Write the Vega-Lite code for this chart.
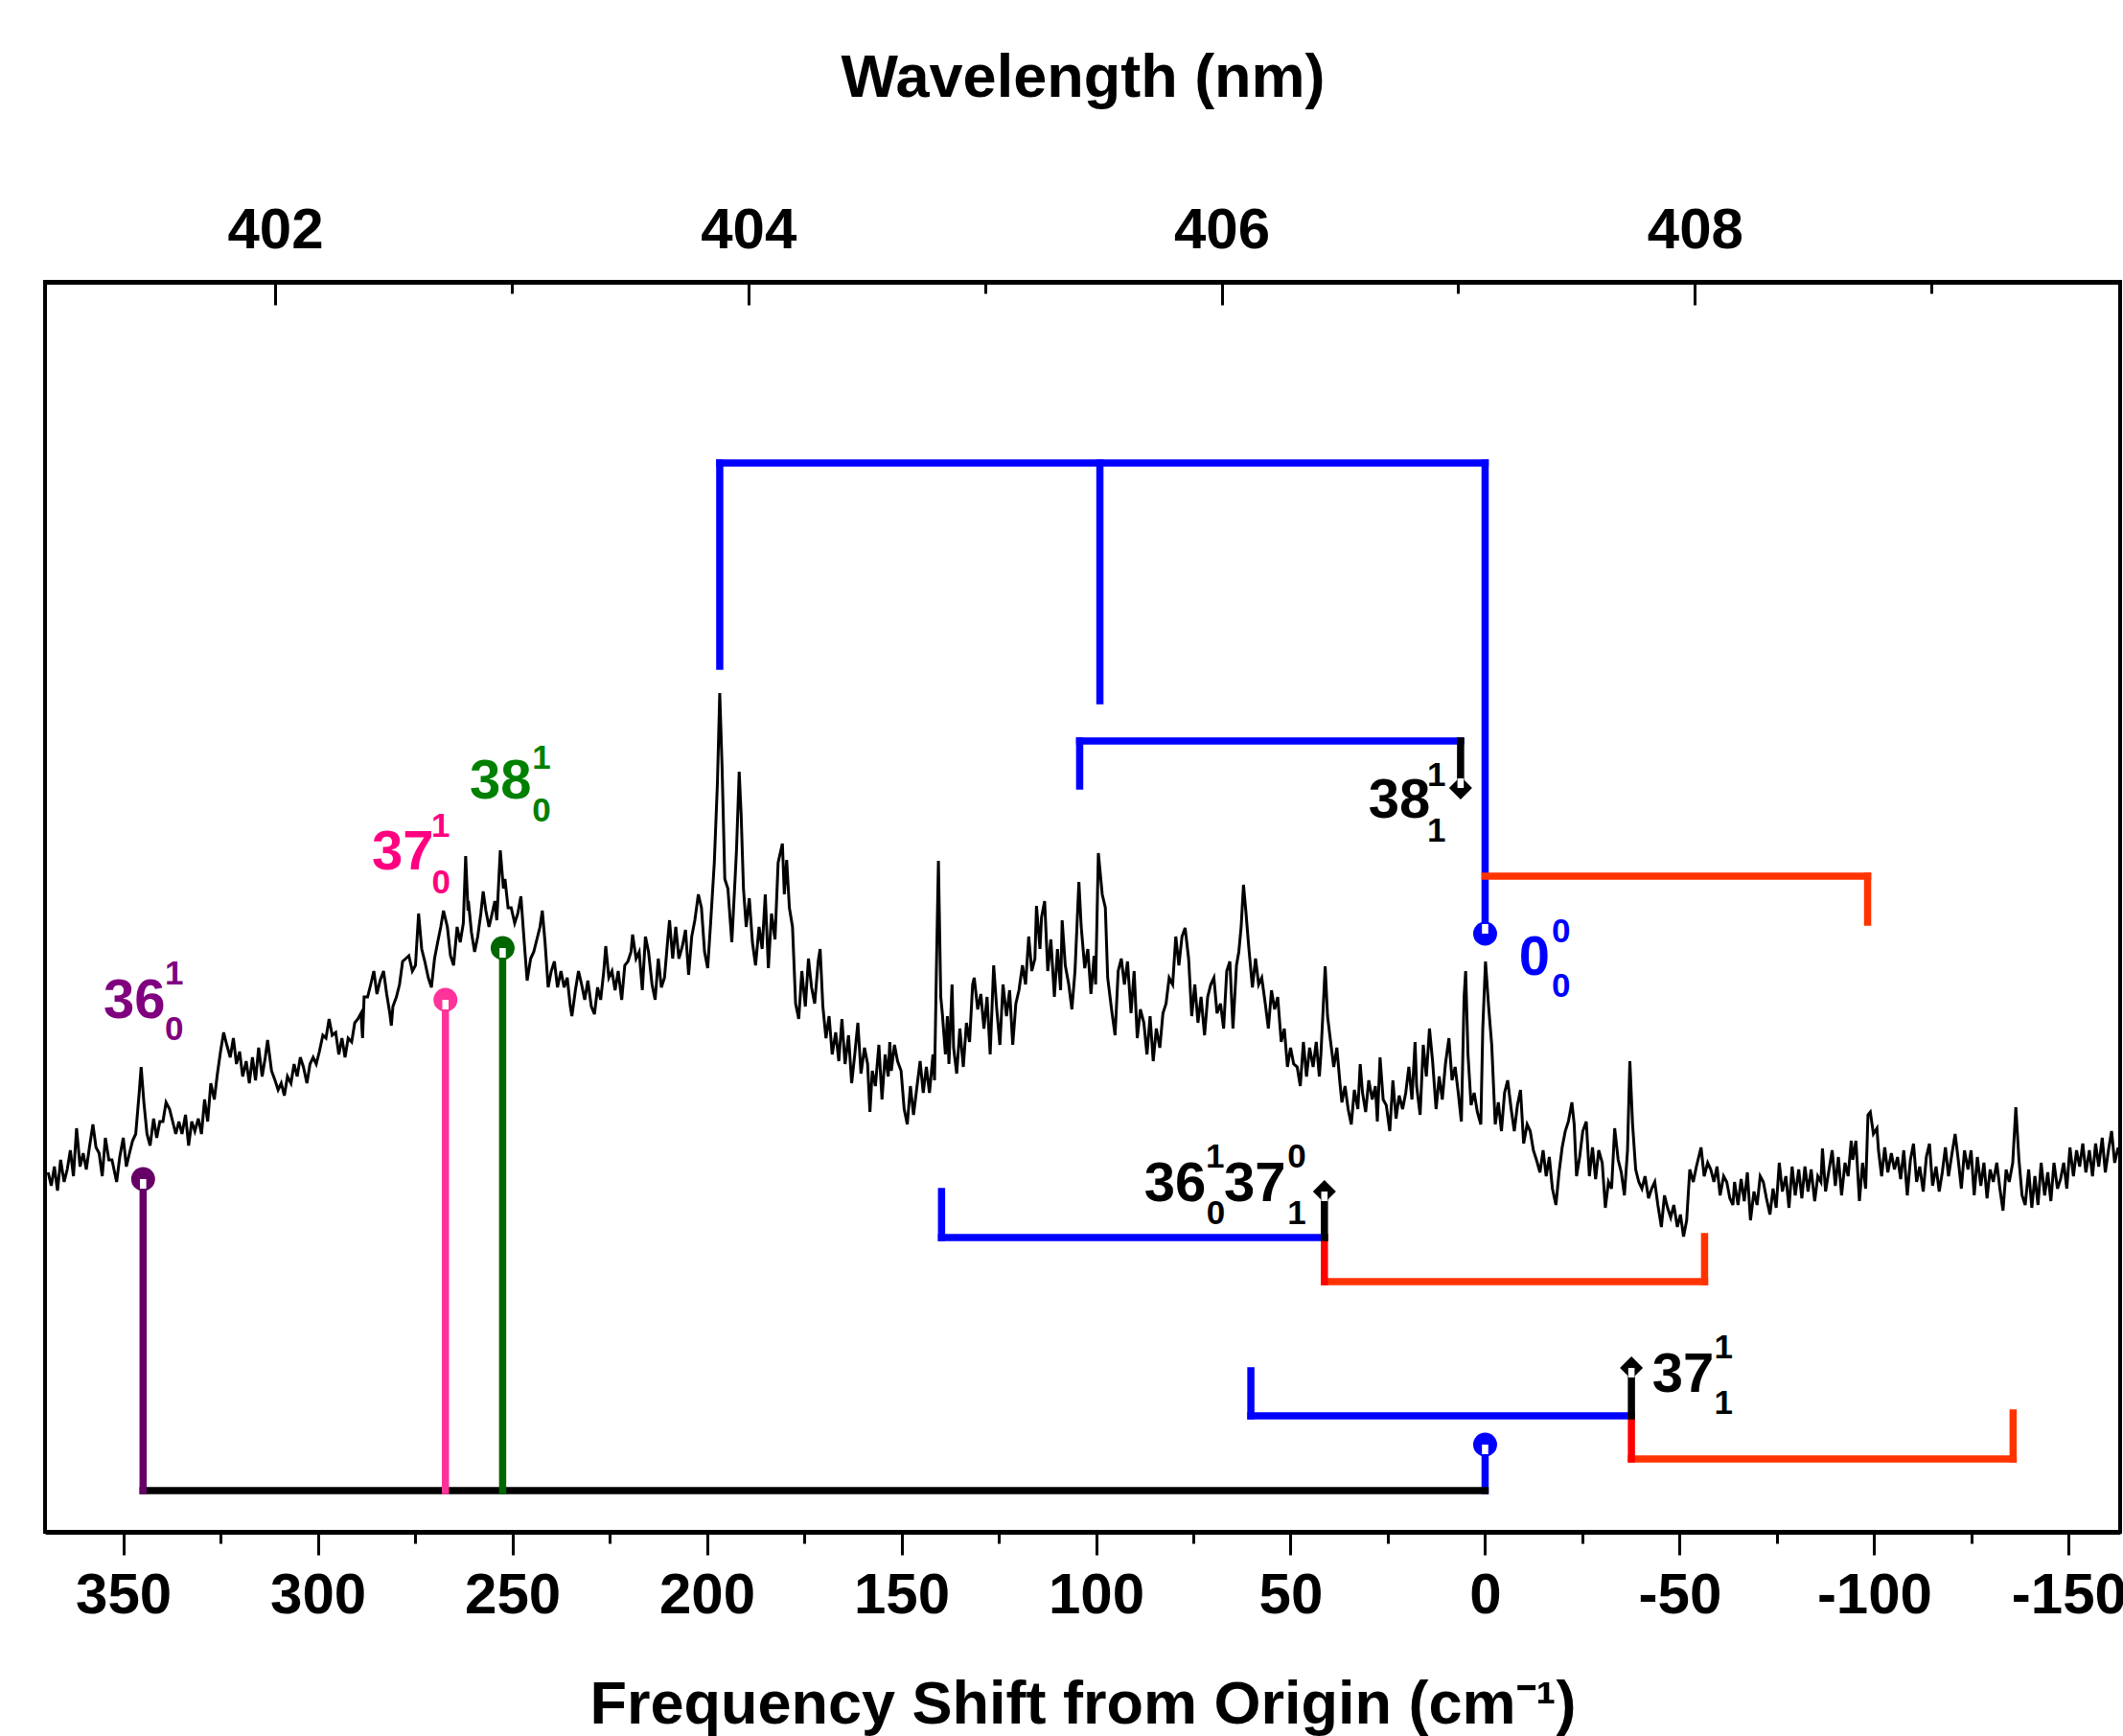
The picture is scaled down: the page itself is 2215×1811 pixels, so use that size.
{
"$schema":"https://vega.github.io/schema/vega-lite/v6.json",
"width":2165,"height":1304,
"autosize":{"type":"none"},
"padding":{"left":47,"top":294,"right":3,"bottom":213},
"background":"white",
"config":{"view":{"stroke":"black","strokeWidth":4},"font":"Liberation Sans"},
"datasets":{
"spectrum":[
{"v":369.3,"h":375},{"v":368.5,"h":361},{"v":367.7,"h":381},{"v":366.9,"h":356},{"v":366.1,"h":388},{"v":365.2,"h":365},{"v":364.4,"h":378},{"v":363.6,"h":398},{"v":362.8,"h":371},{"v":362.0,"h":421},{"v":361.1,"h":381},{"v":360.3,"h":395},{"v":359.5,"h":378},{"v":358.7,"h":401},{"v":357.8,"h":425},{"v":357.0,"h":401},{"v":356.2,"h":395},{"v":355.4,"h":371},{"v":354.6,"h":411},{"v":353.7,"h":388},{"v":352.9,"h":388},{"v":351.7,"h":365},{"v":350.9,"h":391},{"v":350.0,"h":411},{"v":349.2,"h":381},{"v":348.4,"h":395},{"v":347.6,"h":408},{"v":346.8,"h":415},{"v":345.9,"h":458},{"v":345.4,"h":485},{"v":344.7,"h":448},{"v":343.9,"h":415},{"v":343.1,"h":403},{"v":342.2,"h":431},{"v":341.4,"h":411},{"v":340.6,"h":428},{"v":339.8,"h":428},{"v":339.0,"h":448},{"v":338.1,"h":441},{"v":337.3,"h":428},{"v":336.5,"h":415},{"v":335.7,"h":428},{"v":334.9,"h":415},{"v":334.0,"h":435},{"v":333.2,"h":403},{"v":332.4,"h":428},{"v":331.6,"h":418},{"v":330.7,"h":431},{"v":329.9,"h":415},{"v":329.1,"h":451},{"v":328.3,"h":428},{"v":327.5,"h":468},{"v":326.6,"h":451},{"v":325.8,"h":478},{"v":325.0,"h":501},{"v":324.2,"h":521},{"v":323.4,"h":508},{"v":322.5,"h":495},{"v":321.7,"h":515},{"v":320.9,"h":488},{"v":320.1,"h":501},{"v":319.3,"h":475},{"v":318.4,"h":491},{"v":317.6,"h":468},{"v":316.8,"h":495},{"v":316.0,"h":471},{"v":315.2,"h":505},{"v":314.3,"h":475},{"v":313.5,"h":495},{"v":312.9,"h":513},{"v":311.9,"h":481},{"v":311.0,"h":471},{"v":310.2,"h":461},{"v":309.4,"h":468},{"v":308.6,"h":455},{"v":307.8,"h":475},{"v":306.9,"h":468},{"v":306.1,"h":488},{"v":305.3,"h":475},{"v":304.5,"h":495},{"v":303.7,"h":485},{"v":302.8,"h":468},{"v":302.0,"h":488},{"v":301.2,"h":495},{"v":300.4,"h":488},{"v":299.6,"h":501},{"v":298.7,"h":518},{"v":297.9,"h":515},{"v":297.1,"h":535},{"v":296.3,"h":518},{"v":295.4,"h":521},{"v":294.6,"h":498},{"v":293.8,"h":515},{"v":293.0,"h":495},{"v":292.2,"h":515},{"v":291.3,"h":511},{"v":290.5,"h":531},{"v":289.7,"h":535},{"v":288.9,"h":541},{"v":288.5,"h":515},{"v":288.1,"h":558},{"v":287.2,"h":558},{"v":286.4,"h":571},{"v":285.6,"h":585},{"v":284.8,"h":561},{"v":284.0,"h":575},{"v":283.1,"h":585},{"v":282.3,"h":561},{"v":281.5,"h":541},{"v":281.1,"h":528},{"v":280.7,"h":548},{"v":279.8,"h":558},{"v":279.0,"h":571},{"v":278.2,"h":595},{"v":277.4,"h":598},{"v":276.6,"h":601},{"v":275.7,"h":585},{"v":274.9,"h":591},{"v":274.1,"h":645},{"v":273.3,"h":608},{"v":272.5,"h":595},{"v":271.6,"h":578},{"v":270.8,"h":568},{"v":270.0,"h":598},{"v":269.2,"h":615},{"v":268.4,"h":631},{"v":267.7,"h":648},{"v":266.7,"h":631},{"v":265.9,"h":601},{"v":265.1,"h":591},{"v":264.2,"h":631},{"v":263.4,"h":615},{"v":262.6,"h":635},{"v":262.0,"h":705},{"v":261.4,"h":648},
{"v":261.3,"h":658},{"v":260.5,"h":625},{"v":259.7,"h":605},{"v":258.9,"h":621},{"v":258.1,"h":645},{"v":257.5,"h":668},{"v":256.8,"h":648},{"v":256.0,"h":631},{"v":255.2,"h":645},{"v":254.5,"h":658},{"v":254.0,"h":638},{"v":253.1,"h":711},{"v":252.3,"h":671},{"v":251.9,"h":681},{"v":251.1,"h":651},{"v":250.3,"h":651},{"v":249.4,"h":635},{"v":248.6,"h":645},{"v":247.8,"h":663},{"v":247.0,"h":618},{"v":246.2,"h":575},{"v":245.3,"h":598},{"v":244.5,"h":605},{"v":243.7,"h":618},{"v":242.9,"h":631},{"v":242.3,"h":648},{"v":241.6,"h":615},{"v":240.8,"h":568},{"v":240.0,"h":585},{"v":239.2,"h":595},{"v":238.4,"h":568},{"v":237.5,"h":585},{"v":236.7,"h":568},{"v":235.9,"h":578},{"v":235.1,"h":548},{"v":234.7,"h":538},{"v":233.8,"h":565},{"v":233.0,"h":585},{"v":232.2,"h":571},{"v":231.4,"h":555},{"v":230.6,"h":575},{"v":229.7,"h":548},{"v":228.9,"h":540},{"v":228.1,"h":568},{"v":227.3,"h":555},{"v":226.5,"h":585},{"v":226.0,"h":611},{"v":225.2,"h":578},{"v":224.4,"h":585},{"v":223.6,"h":565},{"v":222.8,"h":585},{"v":221.9,"h":555},{"v":221.1,"h":591},{"v":220.3,"h":595},{"v":219.5,"h":605},{"v":219.1,"h":623},{"v":218.2,"h":598},{"v":217.4,"h":605},{"v":216.6,"h":565},{"v":215.8,"h":621},{"v":215.0,"h":605},{"v":214.1,"h":571},{"v":213.3,"h":555},{"v":212.5,"h":598},{"v":211.7,"h":568},{"v":210.9,"h":578},{"v":210.0,"h":621},{"v":209.6,"h":638},{"v":208.8,"h":598},{"v":208.0,"h":631},{"v":207.2,"h":598},{"v":206.3,"h":611},{"v":205.5,"h":628},{"v":204.7,"h":581},{"v":203.9,"h":621},{"v":203.1,"h":638},{"v":202.2,"h":665},{"v":201.4,"h":651},{"v":200.6,"h":605},{"v":199.8,"h":588},{"v":199.0,"h":638},{"v":198.1,"h":698},{"v":197.3,"h":781},{"v":196.7,"h":875},{"v":196.1,"h":798},{"v":195.4,"h":681},{"v":194.6,"h":671},{"v":193.6,"h":615},{"v":192.8,"h":678},{"v":192.4,"h":711},{"v":191.7,"h":793},{"v":191.2,"h":748},{"v":190.6,"h":671},{"v":189.9,"h":631},{"v":189.1,"h":661},{"v":188.3,"h":615},{"v":187.5,"h":591},{"v":186.6,"h":631},{"v":185.8,"h":608},{"v":185.0,"h":665},{"v":184.2,"h":588},{"v":183.4,"h":645},{"v":182.5,"h":618},{"v":181.7,"h":698},{"v":180.6,"h":718},{"v":180.1,"h":665},{"v":179.5,"h":701},{"v":178.8,"h":651},{"v":178.0,"h":631},{"v":177.2,"h":551},{"v":176.4,"h":535},{"v":175.6,"h":585},{"v":174.7,"h":548},{"v":173.9,"h":598},{"v":173.1,"h":568},{"v":172.3,"h":551},{"v":171.4,"h":595},{"v":170.9,"h":608},{"v":170.2,"h":548},{"v":169.4,"h":515},{"v":168.6,"h":538},{"v":167.8,"h":498},{"v":166.9,"h":521},{"v":166.1,"h":491},{"v":165.3,"h":535},{"v":164.5,"h":488},{"v":163.6,"h":518},{"v":162.8,"h":468},{"v":162.0,"h":498},{"v":161.2,"h":531},{"v":160.4,"h":478},{"v":159.5,"h":505},{"v":158.7,"h":488},{"v":158.1,"h":438},{"v":157.5,"h":481},{"v":156.7,"h":465},{"v":155.8,"h":508},{"v":155.0,"h":451},{"v":154.2,"h":498},{"v":153.4,"h":475},{"v":153.0,"h":511},
{"v":152.6,"h":481},{"v":151.8,"h":508},{"v":151.0,"h":491},{"v":150.1,"h":481},{"v":149.3,"h":441},{"v":148.5,"h":425},{"v":147.7,"h":465},{"v":146.9,"h":435},{"v":146.0,"h":465},{"v":145.2,"h":491},{"v":144.4,"h":458},{"v":143.6,"h":485},{"v":142.8,"h":458},{"v":141.9,"h":498},{"v":141.5,"h":471},{"v":141.0,"h":591},{"v":140.5,"h":700},{"v":139.9,"h":558},{"v":139.5,"h":541},{"v":138.7,"h":498},{"v":138.2,"h":538},{"v":137.8,"h":488},{"v":137.0,"h":571},{"v":136.6,"h":505},{"v":135.8,"h":478},{"v":135.0,"h":525},{"v":134.1,"h":485},{"v":133.3,"h":531},{"v":132.5,"h":511},{"v":131.7,"h":571},{"v":131.3,"h":578},{"v":130.4,"h":545},{"v":129.6,"h":561},{"v":128.8,"h":525},{"v":128.0,"h":558},{"v":127.2,"h":498},{"v":126.3,"h":591},{"v":125.5,"h":545},{"v":124.7,"h":508},{"v":123.9,"h":571},{"v":123.0,"h":538},{"v":122.2,"h":565},{"v":121.4,"h":508},{"v":120.6,"h":551},{"v":119.8,"h":565},{"v":118.9,"h":591},{"v":118.1,"h":571},{"v":117.3,"h":621},{"v":116.5,"h":585},{"v":115.7,"h":598},{"v":115.3,"h":653},{"v":114.4,"h":608},{"v":114.0,"h":641},{"v":113.2,"h":658},{"v":112.4,"h":585},{"v":111.6,"h":618},{"v":110.7,"h":558},{"v":109.9,"h":608},{"v":109.1,"h":565},{"v":108.7,"h":638},{"v":107.9,"h":591},{"v":107.0,"h":571},{"v":106.2,"h":545},{"v":105.4,"h":585},{"v":104.4,"h":678},{"v":103.8,"h":631},{"v":102.9,"h":588},{"v":102.1,"h":608},{"v":101.3,"h":561},{"v":100.5,"h":601},{"v":100.1,"h":571},{"v":99.4,"h":708},{"v":98.4,"h":665},{"v":97.6,"h":651},{"v":97.0,"h":578},{"v":96.0,"h":545},{"v":95.1,"h":518},{"v":94.3,"h":585},{"v":93.5,"h":598},{"v":92.7,"h":571},{"v":91.9,"h":595},{"v":91.0,"h":541},{"v":90.2,"h":585},{"v":89.4,"h":515},{"v":88.6,"h":545},{"v":87.7,"h":531},{"v":86.9,"h":498},{"v":86.1,"h":538},{"v":85.3,"h":491},{"v":84.5,"h":525},{"v":83.6,"h":505},{"v":82.8,"h":541},{"v":82.0,"h":551},{"v":81.2,"h":578},{"v":80.3,"h":571},{"v":79.5,"h":621},{"v":78.7,"h":591},{"v":77.9,"h":621},{"v":77.1,"h":630},{"v":76.2,"h":598},{"v":75.4,"h":538},{"v":74.6,"h":571},{"v":73.8,"h":531},{"v":73.0,"h":558},{"v":72.1,"h":518},{"v":71.3,"h":558},{"v":70.5,"h":571},{"v":69.7,"h":578},{"v":68.9,"h":541},{"v":68.0,"h":551},{"v":67.2,"h":525},{"v":66.4,"h":585},{"v":65.6,"h":595},{"v":64.8,"h":525},{"v":63.9,"h":591},{"v":63.3,"h":605},{"v":62.7,"h":631},{"v":62.1,"h":675},{"v":61.5,"h":648},{"v":60.7,"h":608},{"v":59.8,"h":568},{"v":59.0,"h":598},{"v":58.2,"h":571},{"v":57.4,"h":578},{"v":56.5,"h":551},{"v":55.7,"h":525},{"v":54.9,"h":565},{"v":54.1,"h":545},{"v":53.3,"h":558},{"v":52.4,"h":511},{"v":51.6,"h":525},{"v":50.8,"h":485},{"v":50.0,"h":505},{"v":49.2,"h":488},{"v":48.3,"h":485},{"v":47.5,"h":465},{"v":46.7,"h":511},{"v":45.9,"h":475},
{"v":45.1,"h":505},{"v":44.2,"h":485},{"v":43.4,"h":511},{"v":42.6,"h":475},{"v":42.2,"h":498},{"v":41.6,"h":548},{"v":41.1,"h":590},{"v":40.5,"h":538},{"v":39.7,"h":511},{"v":38.9,"h":485},{"v":38.1,"h":505},{"v":37.3,"h":468},{"v":36.8,"h":448},{"v":36.0,"h":465},{"v":35.2,"h":441},{"v":34.4,"h":425},{"v":33.6,"h":461},{"v":32.7,"h":441},{"v":32.1,"h":488},{"v":31.5,"h":458},{"v":30.7,"h":438},{"v":29.9,"h":471},{"v":29.0,"h":451},{"v":28.2,"h":465},{"v":27.7,"h":428},{"v":27.0,"h":495},{"v":26.2,"h":451},{"v":25.4,"h":445},{"v":24.5,"h":418},{"v":23.7,"h":471},{"v":22.9,"h":431},{"v":22.1,"h":455},{"v":21.2,"h":441},{"v":20.4,"h":458},{"v":19.6,"h":485},{"v":18.8,"h":451},{"v":18.0,"h":511},{"v":17.6,"h":465},{"v":16.7,"h":435},{"v":15.9,"h":508},{"v":15.1,"h":475},{"v":14.3,"h":525},{"v":13.5,"h":491},{"v":12.6,"h":441},{"v":11.8,"h":475},{"v":11.0,"h":451},{"v":10.2,"h":488},{"v":9.3,"h":515},{"v":8.5,"h":471},{"v":7.7,"h":485},{"v":6.9,"h":458},{"v":6.1,"h":428},{"v":5.4,"h":558},{"v":5.0,"h":585},{"v":4.4,"h":498},{"v":3.6,"h":445},{"v":2.8,"h":458},{"v":2.0,"h":438},{"v":1.1,"h":425},{"v":0.6,"h":525},{"v":-0.1,"h":595},{"v":-0.9,"h":548},{"v":-1.7,"h":508},{"v":-2.6,"h":425},{"v":-3.4,"h":448},{"v":-4.2,"h":418},{"v":-5.0,"h":458},{"v":-5.8,"h":471},{"v":-6.7,"h":441},{"v":-7.5,"h":418},{"v":-8.3,"h":445},{"v":-9.1,"h":461},{"v":-9.9,"h":405},{"v":-10.8,"h":425},{"v":-11.6,"h":418},{"v":-12.4,"h":398},{"v":-13.2,"h":388},{"v":-14.1,"h":375},{"v":-14.9,"h":398},{"v":-15.7,"h":371},{"v":-16.5,"h":391},{"v":-17.3,"h":358},{"v":-18.2,"h":341},{"v":-19.0,"h":375},{"v":-19.8,"h":401},{"v":-20.6,"h":418},{"v":-21.4,"h":428},{"v":-22.3,"h":448},{"v":-22.9,"h":425},{"v":-23.5,"h":371},{"v":-24.3,"h":391},{"v":-25.1,"h":418},{"v":-26.0,"h":428},{"v":-26.8,"h":371},{"v":-27.6,"h":401},{"v":-28.4,"h":368},{"v":-29.2,"h":398},{"v":-30.1,"h":385},{"v":-30.9,"h":338},{"v":-31.7,"h":365},{"v":-32.5,"h":358},{"v":-33.3,"h":421},{"v":-34.2,"h":388},{"v":-35.0,"h":375},{"v":-35.8,"h":351},{"v":-36.6,"h":398},{"v":-37.2,"h":491},{"v":-37.9,"h":425},{"v":-38.7,"h":378},{"v":-39.5,"h":365},{"v":-40.3,"h":358},{"v":-41.1,"h":371},{"v":-42.0,"h":348},{"v":-42.8,"h":358},{"v":-43.6,"h":365},{"v":-44.4,"h":341},{"v":-45.3,"h":318},{"v":-46.1,"h":351},{"v":-46.9,"h":338},{"v":-47.7,"h":328},{"v":-48.5,"h":341},{"v":-49.4,"h":318},{"v":-50.2,"h":331},{"v":-51.0,"h":308},{"v":-51.8,"h":325},{"v":-52.6,"h":378},{"v":-53.5,"h":365},{"v":-54.3,"h":381},{"v":-55.5,"h":401},{"v":-56.3,"h":371},{"v":-57.2,"h":385},{"v":-58.0,"h":378},{"v":-58.8,"h":365},{"v":-59.6,"h":381},{"v":-60.4,"h":351},{"v":-61.3,"h":371},{"v":-62.1,"h":365},{"v":-62.9,"h":348},{"v":-63.7,"h":341},
{"v":-64.1,"h":365},{"v":-65.0,"h":341},{"v":-65.8,"h":368},{"v":-66.6,"h":345},{"v":-67.4,"h":375},{"v":-68.2,"h":325},{"v":-69.1,"h":355},{"v":-69.9,"h":341},{"v":-70.7,"h":371},{"v":-71.5,"h":365},{"v":-72.3,"h":348},{"v":-73.2,"h":331},{"v":-74.0,"h":358},{"v":-74.8,"h":338},{"v":-75.6,"h":385},{"v":-76.4,"h":355},{"v":-77.3,"h":371},{"v":-78.1,"h":338},{"v":-78.9,"h":381},{"v":-79.7,"h":351},{"v":-80.6,"h":378},{"v":-81.4,"h":348},{"v":-82.2,"h":381},{"v":-83.0,"h":355},{"v":-83.8,"h":378},{"v":-84.7,"h":345},{"v":-85.5,"h":371},{"v":-86.3,"h":365},{"v":-86.7,"h":400},{"v":-87.5,"h":355},{"v":-88.4,"h":378},{"v":-89.2,"h":398},{"v":-90.0,"h":361},{"v":-90.8,"h":391},{"v":-91.6,"h":351},{"v":-92.5,"h":385},{"v":-93.3,"h":371},{"v":-94.1,"h":408},{"v":-94.5,"h":388},{"v":-95.3,"h":408},{"v":-96.2,"h":345},{"v":-97.0,"h":385},{"v":-97.8,"h":358},{"v":-98.4,"h":435},{"v":-99.0,"h":438},{"v":-99.8,"h":415},{"v":-100.7,"h":421},{"v":-101.1,"h":398},{"v":-101.9,"h":371},{"v":-102.7,"h":401},{"v":-103.5,"h":375},{"v":-104.4,"h":395},{"v":-105.2,"h":378},{"v":-106.0,"h":391},{"v":-106.8,"h":368},{"v":-107.6,"h":398},{"v":-108.5,"h":351},{"v":-109.3,"h":388},{"v":-110.1,"h":405},{"v":-110.9,"h":365},{"v":-111.7,"h":381},{"v":-112.6,"h":355},{"v":-113.4,"h":391},{"v":-114.2,"h":405},{"v":-115.0,"h":361},{"v":-115.9,"h":381},{"v":-116.7,"h":355},{"v":-117.5,"h":375},{"v":-118.3,"h":401},{"v":-119.1,"h":371},{"v":-120.0,"h":395},{"v":-120.8,"h":415},{"v":-121.6,"h":388},{"v":-122.4,"h":358},{"v":-123.2,"h":398},{"v":-124.1,"h":378},{"v":-124.9,"h":398},{"v":-125.7,"h":351},{"v":-126.5,"h":391},{"v":-127.4,"h":361},{"v":-128.2,"h":385},{"v":-129.0,"h":348},{"v":-129.8,"h":378},{"v":-130.6,"h":365},{"v":-131.5,"h":385},{"v":-132.3,"h":358},{"v":-133.1,"h":335},{"v":-133.9,"h":378},{"v":-134.7,"h":365},{"v":-135.6,"h":385},{"v":-136.4,"h":443},{"v":-137.2,"h":388},{"v":-138.0,"h":351},{"v":-138.8,"h":341},{"v":-139.7,"h":378},{"v":-140.5,"h":338},{"v":-141.3,"h":371},{"v":-142.1,"h":341},{"v":-142.9,"h":385},{"v":-143.8,"h":351},{"v":-144.6,"h":375},{"v":-145.4,"h":345},{"v":-146.2,"h":385},{"v":-147.1,"h":358},{"v":-147.9,"h":368},{"v":-148.7,"h":385},{"v":-149.5,"h":358},{"v":-150.3,"h":401},{"v":-151.2,"h":371},{"v":-152.0,"h":398},{"v":-152.8,"h":381},{"v":-153.6,"h":405},{"v":-154.4,"h":375},{"v":-155.3,"h":398},{"v":-156.1,"h":371},{"v":-156.9,"h":405},{"v":-157.7,"h":381},{"v":-158.6,"h":411},{"v":-159.4,"h":375},{"v":-160.2,"h":398},{"v":-161.0,"h":418},{"v":-161.8,"h":385},{"v":-162.7,"h":401}
],
"segments":[
{"v":196.7,"v2":0,"h":1115,"h2":1115,"c":"blue"},
{"v":196.7,"v2":196.7,"h":1115,"h2":903,"c":"blue"},
{"v":99.0,"v2":99.0,"h":1115,"h2":867,"c":"blue"},
{"v":0,"v2":0,"h":1115,"h2":624,"c":"blue"},
{"v":104.2,"v2":6.3,"h":825,"h2":825,"c":"blue"},
{"v":104.2,"v2":104.2,"h":825,"h2":778,"c":"blue"},
{"v":139.7,"v2":41.3,"h":307,"h2":307,"c":"blue"},
{"v":139.7,"v2":139.7,"h":307,"h2":355,"c":"blue"},
{"v":60.2,"v2":-37.6,"h":121,"h2":121,"c":"blue"},
{"v":60.2,"v2":60.2,"h":121,"h2":168,"c":"blue"},
{"v":0,"v2":0,"h":43,"h2":91,"c":"blue"},
{"v":0,"v2":-98.3,"h":684,"h2":684,"c":"orange"},
{"v":-98.3,"v2":-98.3,"h":684,"h2":636,"c":"orange"},
{"v":41.3,"v2":-56.4,"h":261,"h2":261,"c":"orange"},
{"v":-56.4,"v2":-56.4,"h":261,"h2":308,"c":"orange"},
{"v":-37.6,"v2":-135.7,"h":76,"h2":76,"c":"orange"},
{"v":-135.7,"v2":-135.7,"h":76,"h2":124,"c":"orange"},
{"v":41.3,"v2":41.3,"h":307,"h2":261,"c":"red"},
{"v":-37.6,"v2":-37.6,"h":121,"h2":76,"c":"red"},
{"v":6.3,"v2":6.3,"h":825,"h2":776,"c":"black"},
{"v":41.3,"v2":41.3,"h":307,"h2":355,"c":"black"},
{"v":-37.6,"v2":-37.6,"h":121,"h2":171,"c":"black"},
{"v":344.9,"v2":0,"h":43,"h2":43,"c":"black"},
{"v":344.9,"v2":344.9,"h":43,"h2":368,"c":"purple"},
{"v":267.2,"v2":267.2,"h":43,"h2":555,"c":"pink"},
{"v":252.5,"v2":252.5,"h":43,"h2":609,"c":"green"}
],
"markers":[
{"v":344.9,"h":368,"c":"purple","kind":"circle","stem":"down"},
{"v":267.2,"h":555,"c":"pink","kind":"circle","stem":"down"},
{"v":252.5,"h":609,"c":"green","kind":"circle","stem":"down"},
{"v":0,"h":624,"c":"blue","kind":"circle","stem":"up"},
{"v":0,"h":91,"c":"blue","kind":"circle","stem":"down"},
{"v":6.3,"h":776,"c":"black","kind":"diamond","stem":"up"},
{"v":41.3,"h":355,"c":"black","kind":"diamond","stem":"down"},
{"v":-37.6,"h":171,"c":"black","kind":"diamond","stem":"down"}
],
"labels":[
{"v":355.1,"h":536,"t":"36","c":"purpleT","r":"main"},
{"v":286.1,"h":691,"t":"37","c":"pinkT","r":"main"},
{"v":261.0,"h":765,"t":"38","c":"greenT","r":"main"},
{"v":-8.7,"h":581,"t":"0","c":"blue","r":"main"},
{"v":30.0,"h":745,"t":"38","c":"black","r":"main"},
{"v":87.6,"h":345,"t":"36","c":"black","r":"main"},
{"v":67.1,"h":345,"t":"37","c":"black","r":"main"},
{"v":-42.9,"h":146,"t":"37","c":"black","r":"main"},
{"v":339.3,"h":571,"t":"1","c":"purpleT","r":"script"},
{"v":339.3,"h":513,"t":"0","c":"purpleT","r":"script"},
{"v":270.8,"h":725,"t":"1","c":"pinkT","r":"script"},
{"v":270.7,"h":666,"t":"0","c":"pinkT","r":"script"},
{"v":244.9,"h":796,"t":"1","c":"greenT","r":"script"},
{"v":244.9,"h":741,"t":"0","c":"greenT","r":"script"},
{"v":-17.1,"h":615,"t":"0","c":"blue","r":"script"},
{"v":-17.1,"h":558,"t":"0","c":"blue","r":"script"},
{"v":14.9,"h":778,"t":"1","c":"black","r":"script"},
{"v":14.9,"h":720,"t":"1","c":"black","r":"script"},
{"v":71.8,"h":380,"t":"1","c":"black","r":"script"},
{"v":71.6,"h":321,"t":"0","c":"black","r":"script"},
{"v":50.8,"h":380,"t":"0","c":"black","r":"script"},
{"v":50.8,"h":321,"t":"1","c":"black","r":"script"},
{"v":-58.9,"h":181,"t":"1","c":"black","r":"script"},
{"v":-58.9,"h":123,"t":"1","c":"black","r":"script"}
]
},
"layer":[
{
"encoding":{
"x":{"field":"v","type":"quantitative","scale":{"domain":[-163.2,370.1],"reverse":true,"nice":false,"zero":false},
"axis":{"orient":"bottom","values":[-150,-125,-100,-75,-50,-25,0,25,50,75,100,125,150,175,200,225,250,275,300,325,350],
"labelExpr":"datum.value % 50 == 0 ? '' + datum.value : ''",
"tickSize":{"condition":{"test":"datum.value % 50 == 0","value":24},"value":12},
"tickWidth":3,"tickColor":"black","domainColor":"black","domainWidth":5,"grid":false,
"labelFont":"Liberation Sans","labelFontWeight":"bold","labelFontSize":60,"labelColor":"black","labelPadding":13,
"labelFlush":false,"labelOverlap":false,"labelBound":false,
"title":"Frequency Shift from Origin (cm⁻¹)","titleFont":"Liberation Sans","titleFontSize":63,"titleFontWeight":"bold","titleColor":"black",
"titleBaseline":"alphabetic","titleY":199}},
"y":{"field":"h","type":"quantitative","scale":{"domain":[0,1304],"nice":false,"zero":false},"axis":null},
"color":{"field":"c","type":"nominal","scale":{"domain":["purple","pink","green","blue","black","orange","red","purpleT","pinkT","greenT"],"range":["#660066","#ff3399","#006600","#0000ff","#000000","#ff3300","#ff0000","#800080","#ff0080","#008000"]},"legend":null}
},
"layer":[
{"data":{"name":"spectrum"},"mark":{"type":"line","color":"black","strokeWidth":3},"encoding":{"color":{"value":"black"}}},
{"data":{"name":"segments"},"mark":{"type":"rule","strokeWidth":7.5,"strokeCap":"square"},
"encoding":{"x2":{"field":"v2"},"y2":{"field":"h2"}}},
{"data":{"name":"markers"},"transform":[{"filter":"datum.kind == 'circle'"}],"mark":{"type":"point","shape":"circle","filled":true,"size":625,"opacity":1}},
{"data":{"name":"markers"},"transform":[{"filter":"datum.kind == 'diamond'"}],"mark":{"type":"point","shape":"diamond","filled":true,"size":576,"opacity":1}},
{"data":{"name":"markers"},"transform":[{"filter":"datum.stem == 'down'"}],"mark":{"type":"point","shape":"M-0.33,0V1H0.33V0Z","filled":true,"size":400,"opacity":1},"encoding":{"color":{"value":"white"}}},
{"data":{"name":"markers"},"transform":[{"filter":"datum.stem == 'up'"}],"mark":{"type":"point","shape":"M-0.33,0V-1H0.33V0Z","filled":true,"size":400,"opacity":1},"encoding":{"color":{"value":"white"}}},
{"data":{"name":"labels"},"transform":[{"filter":"datum.r == 'main'"}],
"mark":{"type":"text","align":"left","baseline":"alphabetic","fontSize":58,"fontWeight":"bold","font":"Liberation Sans"},
"encoding":{"text":{"field":"t"}}},
{"data":{"name":"labels"},"transform":[{"filter":"datum.r == 'script'"}],
"mark":{"type":"text","align":"left","baseline":"alphabetic","fontSize":35,"fontWeight":"bold","font":"Liberation Sans"},
"encoding":{"text":{"field":"t"}}}
]
},
{
"data":{"values":[{"wl":402},{"wl":408}]},
"mark":{"type":"point","opacity":0},
"encoding":{
"x":{"field":"wl","type":"quantitative","scale":{"domain":[401.028,409.797],"nice":false,"zero":false},
"axis":{"orient":"top","values":[402,403,404,405,406,407,408,409],
"labelExpr":"datum.value % 2 == 0 ? '' + datum.value : ''",
"tickSize":{"condition":{"test":"datum.value % 2 == 0","value":-24},"value":-12},
"tickWidth":3,"tickColor":"black","domainColor":"black","domainWidth":5,"grid":false,
"labelFont":"Liberation Sans","labelFontWeight":"bold","labelFontSize":60,"labelColor":"black","labelPadding":47,
"labelFlush":false,"labelOverlap":false,"labelBound":false,
"title":"Wavelength (nm)","titleFont":"Liberation Sans","titleFontSize":63,"titleFontWeight":"bold","titleColor":"black",
"titleBaseline":"alphabetic","titleY":-194}}
}
}
],
"resolve":{"scale":{"x":"independent"},"axis":{"x":"independent"}}
}
